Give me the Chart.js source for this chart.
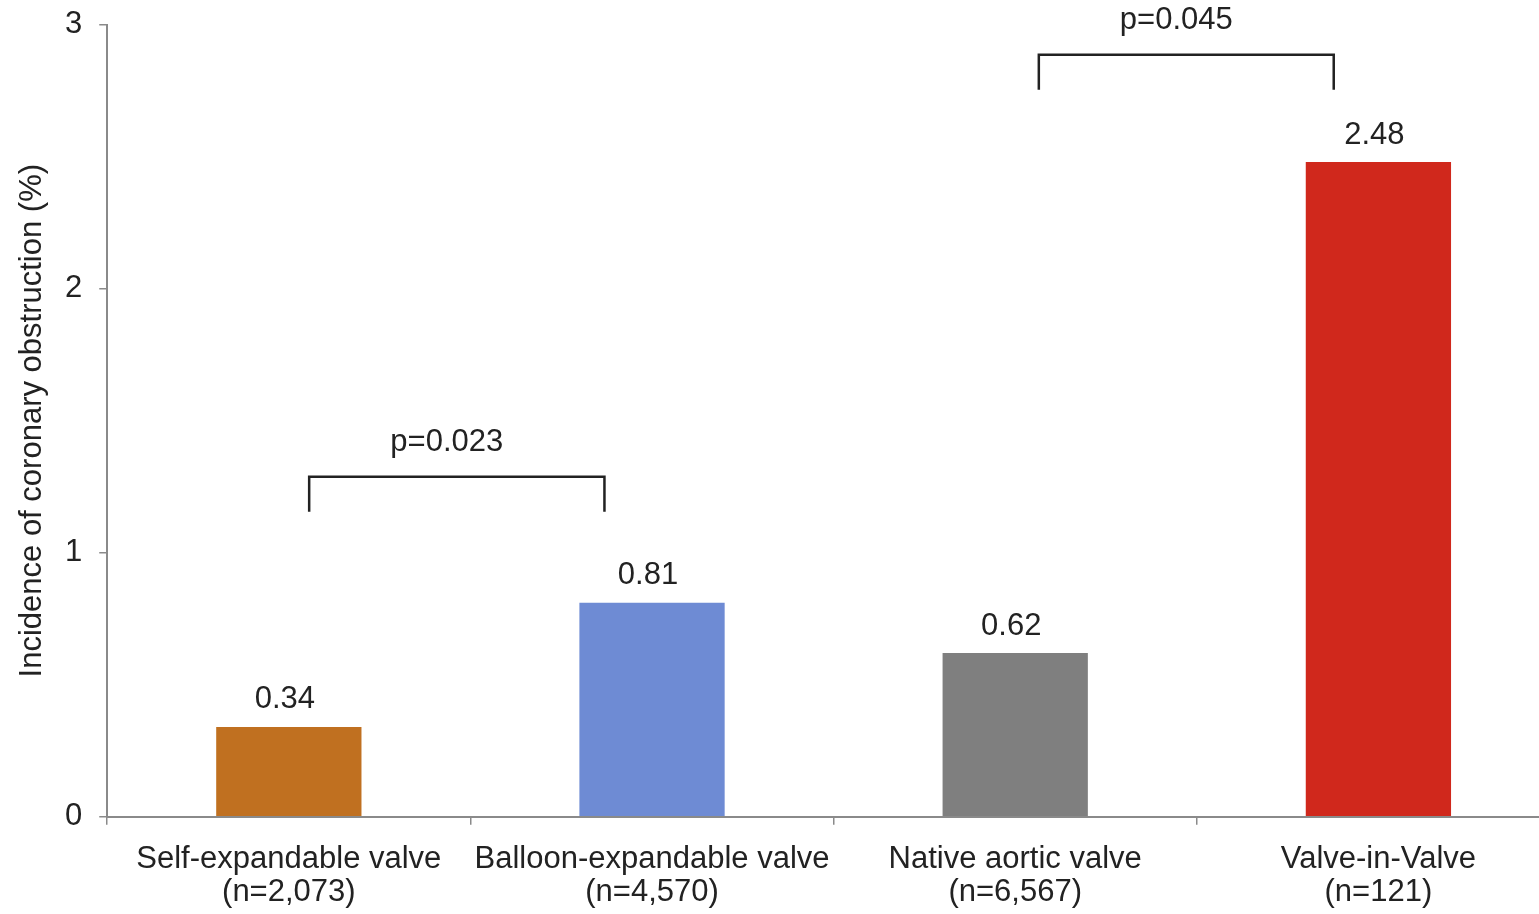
<!DOCTYPE html>
<html>
<head>
<meta charset="utf-8">
<script src="https://cdn.jsdelivr.net/npm/chart.js@4/dist/chart.umd.min.js"></script>
<style>
  html, body { margin: 0; padding: 0; background: #fff; overflow: hidden; }
  #wrap { width: 1560px; height: 927px; position: relative; }
</style>
</head>
<body>
<div id="wrap"><canvas id="chart"></canvas></div>
<script>
// Coronary obstruction incidence by valve type
const categories = ['Self-expandable valve', 'Balloon-expandable valve', 'Native aortic valve', 'Valve-in-Valve'];
const sampleSizes = ['(n=2,073)', '(n=4,570)', '(n=6,567)', '(n=121)'];
const incidence = [0.34, 0.81, 0.62, 2.48];
const barColors = ['#C07020', '#6E8BD4', '#7F7F7F', '#D0281C'];
const yTicks = [0, 1, 2, 3];

// significance brackets: category span (fractional index), height of bar top and leg bottom
const pLabels = ['p=0.023', 'p=0.045'];
const bracketFrom = [0.056, 2.065];
const bracketTo = [0.869, 2.877];
const bracketTop = [1.288, 2.886];
const bracketLeg = [1.155, 2.754];

const FONT = '"Liberation Sans", Arial, Helvetica, sans-serif';
const TEXT = '#222222';
const AXIS = '#8a8a8a';

const valueLabels = {
  id: 'valueLabels',
  afterDatasetsDraw(chart) {
    const ctx = chart.ctx;
    const meta = chart.getDatasetMeta(0);
    ctx.save();
    ctx.font = '31px ' + FONT;
    ctx.fillStyle = TEXT;
    ctx.textAlign = 'center';
    ctx.textBaseline = 'middle';
    meta.data.forEach((bar, i) => {
      ctx.fillText(incidence[i].toFixed(2), bar.x - 4, bar.y - 27);
    });
    ctx.restore();
  }
};

const brackets = {
  id: 'brackets',
  afterDraw(chart) {
    const ctx = chart.ctx;
    const xs = chart.scales.x, ys = chart.scales.y;
    ctx.save();
    ctx.strokeStyle = TEXT;
    ctx.lineWidth = 2.5;
    ctx.font = '31px ' + FONT;
    ctx.fillStyle = TEXT;
    ctx.textAlign = 'center';
    ctx.textBaseline = 'middle';
    pLabels.forEach((lab, i) => {
      const x1 = xs.getPixelForValue(bracketFrom[i]);
      const x2 = xs.getPixelForValue(bracketTo[i]);
      const yt = ys.getPixelForValue(bracketTop[i]);
      const yl = ys.getPixelForValue(bracketLeg[i]);
      ctx.beginPath();
      ctx.moveTo(x1, yl);
      ctx.lineTo(x1, yt);
      ctx.lineTo(x2, yt);
      ctx.lineTo(x2, yl);
      ctx.stroke();
      ctx.fillText(lab, (x1 + x2) / 2 - 10, yt - 34);
    });
    ctx.restore();
  }
};

new Chart(document.getElementById('chart'), {
  type: 'bar',
  data: {
    labels: categories.map((c, i) => [c, sampleSizes[i]]),
    datasets: [{
      data: incidence,
      backgroundColor: barColors,
      barPercentage: 0.4,
      categoryPercentage: 1.0
    }]
  },
  options: {
    responsive: true,
    maintainAspectRatio: false,
    animation: false,
    layout: { padding: { top: 7, left: 3, right: 0, bottom: 0 } },
    plugins: { legend: { display: false }, tooltip: { enabled: false } },
    scales: {
      x: {
        offset: true,
        grid: { offset: true, drawOnChartArea: false, drawTicks: true, tickLength: 8, color: AXIS, lineWidth: 1.5 },
        border: { color: AXIS, width: 2 },
        ticks: { color: TEXT, padding: 18, maxRotation: 0, autoSkip: false, font: { family: FONT, size: 31, lineHeight: 1.07 } }
      },
      y: {
        min: 0,
        max: 3,
        afterBuildTicks(scale) { scale.ticks = yTicks.map(v => ({ value: v })); },
        grid: { drawOnChartArea: false, drawTicks: true, tickLength: 8, color: AXIS, lineWidth: 1.5 },
        border: { color: AXIS, width: 2 },
        ticks: { color: TEXT, padding: 17, font: { family: FONT, size: 31, lineHeight: 0.5 } },
        title: {
          display: true,
          text: 'Incidence of coronary obstruction (%)',
          color: TEXT,
          font: { family: FONT, size: 31, lineHeight: 1.0 },
          padding: { top: 14, bottom: 0 }
        }
      }
    }
  },
  plugins: [valueLabels, brackets]
});
</script>
</body>
</html>
